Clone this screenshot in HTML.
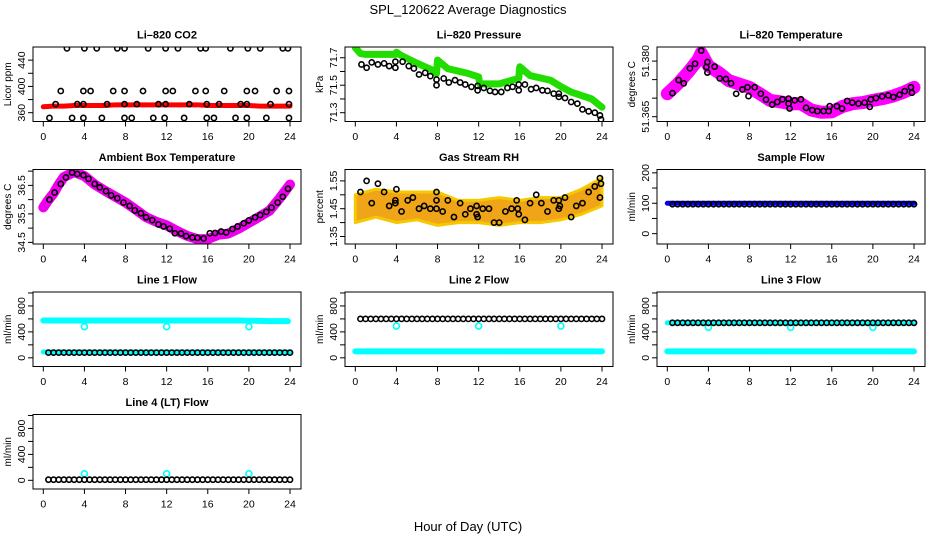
<!DOCTYPE html>
<html><head><meta charset="utf-8"><style>
html,body{margin:0;padding:0;background:#fff;}
svg{display:block;font-family:"Liberation Sans",Arial,sans-serif;}
</style></head><body>
<svg id="chart" width="936" height="540" viewBox="0 0 936 540">
<text x="468" y="14" font-size="13" text-anchor="middle">SPL_120622  Average Diagnostics</text>
<text x="468" y="531" font-size="13" text-anchor="middle">Hour of Day (UTC)</text>
</svg>
<script>
// ---------- data ----------
const bandHours = [0,1,2,3,4,5,6,7,8,9,10,11,12,13,14,15,16,17,18,19,20,21,22,23,24];
const ptHours = [0.5,1,1.5,2,2.5,3,3.5,4,4.5,5,5.5,6,6.5,7,7.5,8,8.5,9,9.5,10,10.5,11,11.5,12,12.5,13,13.5,14,14.5,15,15.5,16,16.5,17,17.5,18,18.5,19,19.5,20,20.5,21,21.5,22,22.5,23,23.5,24];

// CO2
const co2Band = [369,370,370,371,371,371,371,372,372,372,372,372,372,372,372,372,371,371,371,371,371,370,370,370,370];
const co2Hours = [2.3,4.0,5.2,7.2,7.9,10.2,11.9,13.1,15.3,15.8,18.2,19.9,21.1,23.3,23.8,
 1.7,3.9,4.6,6.8,7.9,9.7,11.9,12.6,14.8,15.8,17.6,19.8,20.6,22.7,23.9,
 1.2,3.3,3.9,6.2,7.9,9.1,11.2,11.9,14.2,15.9,17.1,19.2,19.8,22.1,23.9,
 0.6,2.8,3.9,5.7,7.9,8.6,10.7,11.8,13.7,15.9,16.6,18.7,19.8,21.7,23.9];
const co2Vals = [458,458,458,458,458,458,458,458,458,458,458,458,458,458,458,
 393,393,393,393,393,393,393,393,393,393,393,393,393,393,393,
 373,373,373,373,373,373,373,373,373,373,373,373,373,373,373,
 352,352,352,352,352,352,352,352,352,352,352,352,352,352,352];

// Pressure
const presBandHours = [0,0.5,1,3.9,4,4.5,6,7.5,7.9,8,9,11,12,12.1,14,15.9,16,17,19,20,21,23,24];
const presBand = [71.773,71.73,71.724,71.724,71.74,71.715,71.66,71.61,71.585,71.683,71.62,71.585,71.56,71.51,71.51,71.55,71.634,71.57,71.536,71.49,71.45,71.40,71.34];
const presHours = [0.6,1.1,1.6,2.2,2.8,3.3,3.9,3.9,4.6,5.2,5.7,6.2,6.8,7.3,7.9,7.9,8.6,9.1,9.7,10.2,10.7,11.3,11.9,11.9,12.5,13.1,13.6,14.2,14.8,15.3,15.9,15.9,16.5,17.1,17.6,18.2,18.7,19.3,19.8,19.8,20.4,21,21.6,22.1,22.7,23.3,23.8,23.9];
const presVals = [71.651,71.627,71.666,71.651,71.659,71.639,71.671,71.627,71.671,71.639,71.622,71.578,71.590,71.566,71.541,71.500,71.549,71.520,71.537,71.520,71.505,71.488,71.495,71.463,71.480,71.459,71.451,71.451,71.480,71.488,71.505,71.463,71.505,71.471,71.480,71.463,71.459,71.439,71.415,71.439,71.407,71.378,71.366,71.324,71.310,71.300,71.280,71.251];

// Li-820 temperature
const tempBandHours = [0,1,2,3,3.3,4,5,6,7,8,9,10,11,12,13,14,15,16,17,18,19,20,21,22,23,24];
const tempBand = [51.3712,51.3738,51.3769,51.3804,51.3822,51.3787,51.3769,51.3747,51.3738,51.3729,51.3712,51.3694,51.3690,51.3685,51.3685,51.3668,51.3662,51.3663,51.3677,51.3685,51.3688,51.3694,51.3699,51.3706,51.3716,51.3729];
const tempHours = [0.5,1.1,1.6,2.2,2.7,3.3,3.8,3.9,3.9,4.6,5.1,5.7,6.2,6.7,7.3,7.8,7.9,8.5,9.1,9.6,10.2,10.7,11.2,11.8,11.8,11.9,12.4,13,13.5,14.1,14.6,15.2,15.7,15.8,16.5,17,17.5,18,18.6,19.2,19.7,19.8,20.3,20.9,21.5,22,22.6,23.1,23.7,23.8];
const tempVals = [51.37136,51.37488,51.37400,51.37806,51.37929,51.38282,51.37841,51.37691,51.37974,51.37850,51.37533,51.37515,51.37400,51.37118,51.37233,51.37294,51.37056,51.37294,51.37118,51.36959,51.36827,51.36897,51.36968,51.36986,51.36853,51.36721,51.36942,51.36968,51.36739,51.36677,51.36651,51.36651,51.36651,51.36783,51.36783,51.36721,51.36924,51.36880,51.36853,51.36880,51.36765,51.36968,51.37003,51.37047,51.37074,51.37030,51.37092,51.37189,51.37294,51.37145];

// Ambient box temperature
const ambBandHours = [0,0.5,1,1.5,2,3,4,5,6,7,8,9,10,11,12,13,14,15,16,17,18,19,20,21,22,23,24];
const ambBand = [35.727,35.991,36.220,36.530,36.794,36.966,36.828,36.530,36.312,36.106,35.899,35.647,35.383,35.222,35.096,34.901,34.729,34.615,34.615,34.764,34.810,34.982,35.188,35.394,35.612,36.048,36.530];
const ambHours = [0.6,1.1,1.7,2.2,2.8,3.3,3.9,4.4,5.0,5.5,6.1,6.6,7.2,7.8,8.4,8.9,9.5,10.0,10.6,11.2,11.7,12.3,12.8,13.4,13.9,14.5,15.0,15.6,16.2,16.7,17.3,17.8,18.4,18.9,19.5,20.0,20.6,21.1,21.7,22.2,22.8,23.3,23.8];
const ambVals = [36.00,36.25,36.55,36.78,36.95,36.90,36.86,36.73,36.55,36.43,36.30,36.15,36.05,35.90,35.78,35.62,35.52,35.38,35.28,35.13,35.06,34.98,34.82,34.81,34.72,34.67,34.66,34.64,34.82,34.83,34.88,34.85,34.97,35.06,35.17,35.27,35.38,35.46,35.57,35.72,35.90,36.10,36.38];

// Gas stream RH
const rhBandHours = [0,2,4,6,8,10,12,14,16,18,20,22,24];
const rhUpper = [1.50,1.52,1.51,1.51,1.51,1.48,1.48,1.49,1.48,1.49,1.49,1.52,1.56];
const rhLower = [1.40,1.42,1.40,1.41,1.39,1.40,1.40,1.39,1.40,1.40,1.41,1.43,1.46];
const rhHours = [0.5,1.1,1.6,2.2,2.8,3.3,3.9,3.9,4.0,4.5,5.1,5.6,6.2,6.7,7.3,7.9,7.9,7.9,8.5,9.0,9.6,10.2,10.7,11.2,11.8,11.8,11.9,12.4,13.0,13.5,14.0,14.6,15.2,15.7,15.8,15.9,16.5,17.0,17.6,18.1,18.7,19.3,19.8,19.8,19.9,20.4,21.0,21.5,22.1,22.7,23.3,23.8,23.8,23.9];
const rhVals = [1.51,1.55,1.47,1.54,1.51,1.46,1.48,1.47,1.52,1.44,1.48,1.49,1.45,1.46,1.45,1.45,1.48,1.51,1.44,1.48,1.42,1.47,1.43,1.45,1.43,1.46,1.42,1.45,1.45,1.40,1.40,1.44,1.45,1.48,1.45,1.43,1.41,1.47,1.50,1.47,1.44,1.48,1.48,1.45,1.46,1.49,1.42,1.46,1.47,1.51,1.53,1.56,1.49,1.54];

// Sample flow
const sampleBand = [100,100,100,100,100,100,100,100,100,100,100,100,100,100,100,100,100,100,100,100,100,100,100,100,100];
const sampleVals = [97,97,97,97,97,97,97,97,97,97,97,97,97,97,97,97,97,97,97,97,97,97,97,97,97,97,97,97,97,97,97,97,97,97,97,97,97,97,97,97,97,97,97,97,97,97,97,97];

// Line flows
const line1High = [575,575,575,575,575,575,575,575,575,575,575,575,575,575,575,575,575,575,575,575,572,570,566,565,565];
const line1Low = [90,90,90,90,90,90,90,90,90,90,90,90,90,90,90,90,90,90,90,90,90,90,90,90,90];
const line1Black = [80,80,80,80,80,80,80,80,80,80,80,80,80,80,80,80,80,80,80,80,80,80,80,80,80,80,80,80,80,80,80,80,80,80,80,80,80,80,80,80,80,80,80,80,80,80,80,80];
const line2Band = [100,100,100,100,100,100,100,100,100,100,100,100,100,100,100,100,100,100,100,100,100,100,100,100,100];
const line2Black = [600,600,600,600,600,600,600,600,600,600,600,600,600,600,600,600,600,600,600,600,600,600,600,600,600,600,600,600,600,600,600,600,600,600,600,600,600,600,600,600,600,600,600,600,600,600,600,600];
const line3Band = [100,100,100,100,100,100,100,100,100,100,100,100,100,100,100,100,100,100,100,100,100,100,100,100,100];
const line3High = [540,540,540,540,540,540,540,540,540,540,540,540,540,540,540,540,540,540,540,540,540,540,540,540,540];
const line3Black = [540,540,540,540,540,540,540,540,540,540,540,540,540,540,540,540,540,540,540,540,540,540,540,540,540,540,540,540,540,540,540,540,540,540,540,540,540,540,540,540,540,540,540,540,540,540,540,540];
const line4Black = [10,10,10,10,10,10,10,10,10,10,10,10,10,10,10,10,10,10,10,10,10,10,10,10,10,10,10,10,10,10,10,10,10,10,10,10,10,10,10,10,10,10,10,10,10,10,10,10];
const outlierHours = [4,12,20];
const line1Out = [480,480,480];
const line2Out = [490,490,490];
const line3Out = [470,470,470];
const line4Out = [100,100,100];

const xTicks = [0,4,8,12,16,20,24];

// ---------- drawing ----------
const NS = 'http://www.w3.org/2000/svg';
const svg = document.getElementById('chart');
const rowTops = [47, 169.5, 292, 414.5];
const BOXH = 74.5;
function mk(tag, attrs, parent){
  const e = document.createElementNS(NS, tag);
  for (const k in attrs) e.setAttribute(k, attrs[k]);
  (parent||svg).appendChild(e);
  return e;
}
function panel(name, title, ylab, col, row, ymin, ymax, ticks, labels){
  const g = mk('g', {});
  
  
  const off = 312*col;
  const left = 33 + off, right = 301 + off, top = rowTops[row], bot = top + BOXH;
  const P = {g, sx: h => 43.3 + off + h*(246.7/24), sy: v => top + (ymax - v)/(ymax - ymin)*BOXH, left, right, top, bot};
  const t = mk('text', {x:(left+right)/2, y: top-8.5, 'font-size':11, 'font-weight':'bold', 'text-anchor':'middle'}, g);
  t.textContent = title;
  
  
  const yl = mk('text', {transform:`translate(${11+off},${(top+bot)/2}) rotate(-90)`, 'font-size':10, 'text-anchor':'middle'}, g);
  yl.textContent = ylab;
  
  
  // x axis
  const xa = mk('g', {stroke:'#000', 'stroke-width':1}, g);
  
  
  mk('line', {x1:P.sx(xTicks[0]), x2:P.sx(xTicks[xTicks.length-1]), y1:bot, y2:bot}, xa);
  xTicks.forEach(v => {
    mk('line', {x1:P.sx(v), x2:P.sx(v), y1:bot, y2:bot+5}, xa);
    const tl = mk('text', {x:P.sx(v), y:bot+18.5, 'font-size':10.5, 'text-anchor':'middle', stroke:'none'}, xa);
    tl.textContent = v;
    
    
  });
  // y axis
  const ya = mk('g', {stroke:'#000', 'stroke-width':1}, g);
  
  
  mk('line', {x1:left, x2:left, y1:P.sy(ticks[0]), y2:P.sy(ticks[ticks.length-1])}, ya);
  ticks.forEach(v => mk('line', {x1:left-5, x2:left, y1:P.sy(v), y2:P.sy(v)}, ya));
  labels.forEach(v => {
    const tl = mk('text', {transform:`translate(${25+off},${P.sy(v)}) rotate(-90)`, 'font-size':10.5, 'text-anchor':'middle', stroke:'none'}, ya);
    tl.textContent = v;
    
    
  });
  P.clip = 'clip-' + name;
  const cp = mk('clipPath', {id:P.clip}, g);
  mk('rect', {x:left, y:top, width:right-left, height:BOXH}, cp);
  P.plot = mk('g', {'clip-path':`url(#${P.clip})`}, g);
  setTimeout(() => {
    const box = mk('rect', {x:left, y:top, width:right-left, height:BOXH, fill:'none', stroke:'#000', 'stroke-width':1}, g);
    
    
  }, 0);
  return P;
}
function band(P, hs, vs, color, w, nm){
  const pl = mk('polyline', {points: hs.map((h,i)=>P.sx(h)+','+P.sy(vs[i])).join(' '), fill:'none', stroke:color, 'stroke-width':w, 'stroke-linejoin':'round', 'stroke-linecap':'round'}, P.plot);
  
  
}
function points(P, hs, vs, color, nm, r){
  const g = mk('g', {fill:'none', stroke:color, 'stroke-width':1.6}, P.plot);
  
  
  hs.forEach((h,i) => {
    const c = mk('circle', {cx:P.sx(h), cy:P.sy(vs[i]), r:r||2.6}, g);
    
    
  });
}

// CO2
let P = panel('co2', 'Li\u2013820 CO2', 'Licor ppm', 0, 0, 346.6, 460, [360,380,400,420,440], [360,400,440]);
band(P, bandHours, co2Band, '#ff0000', 5, 'co2-raw-band');
points(P, co2Hours, co2Vals, '#000', 'co2-average');

// Pressure
P = panel('pressure', 'Li\u2013820 Pressure', 'kPa', 1, 0, 71.236, 71.778, [71.3,71.4,71.5,71.6,71.7], ['71.3','71.5','71.7']);
band(P, presBandHours, presBand, '#22dd00', 7, 'pressure-raw-band');
points(P, presHours, presVals, '#000', 'pressure-average');

// Li-820 temp
P = panel('li820-temp', 'Li\u2013820 Temperature', 'degrees C', 2, 0, 51.3637, 51.3838, [51.365,51.370,51.375,51.380], ['51.365','51.380']);
band(P, tempBandHours, tempBand, '#ff00ff', 13, 'li820-temp-raw-band');
points(P, tempHours, tempVals, '#000', 'li820-temp-average');

// Ambient
P = panel('ambient-temp', 'Ambient Box Temperature', 'degrees C', 0, 1, 34.443, 37.057, [34.5,35,35.5,36,36.5,37], ['34.5','35.5','36.5']);
band(P, ambBandHours, ambBand, '#ee00ee', 10, 'ambient-temp-raw-band');
points(P, ambHours, ambVals, '#000', 'ambient-temp-average');

// RH
P = panel('rh', 'Gas Stream RH', 'percent', 1, 1, 1.323, 1.591, [1.35,1.40,1.45,1.50,1.55], ['1.35','1.45','1.55']);
{
  const pts = rhBandHours.map((h,i)=>P.sx(h)+','+P.sy(rhUpper[i])).concat(rhBandHours.slice().reverse().map((h,j)=>P.sx(h)+','+P.sy(rhLower[rhLower.length-1-j])));
  const pg = mk('polygon', {points: pts.join(' '), fill:'#f0a418', stroke:'#f5c800', 'stroke-width':3, 'stroke-linejoin':'round'}, P.plot);
  
  
}
points(P, rhHours, rhVals, '#000', 'rh-average');

// Sample flow
P = panel('sample-flow', 'Sample Flow', 'ml/min', 2, 1, -34, 211, [0,50,100,150,200], [0,100,200]);
band(P, bandHours, sampleBand, '#0000ff', 5, 'sample-flow-raw-band');
points(P, ptHours, sampleVals, '#000', 'sample-flow-average');

const flowTicks = [0,200,400,600,800,1000], flowLabels = [0,400,800];
// Line 1
P = panel('line1-flow', 'Line 1 Flow', 'ml/min', 0, 2, -134, 1015, flowTicks, flowLabels);
band(P, bandHours.slice(0,24).concat([23.8]), line1High, '#00ffff', 6, 'line1-raw-high-band');
band(P, bandHours, line1Low, '#00ffff', 5, 'line1-raw-low-band');
points(P, outlierHours, line1Out, '#00ffff', 'line1-outliers', 3);
points(P, ptHours, line1Black, '#000', 'line1-average');
// Line 2
P = panel('line2-flow', 'Line 2 Flow', 'ml/min', 1, 2, -134, 1015, flowTicks, flowLabels);
band(P, bandHours, line2Band, '#00ffff', 6, 'line2-raw-band');
points(P, outlierHours, line2Out, '#00ffff', 'line2-outliers', 3);
points(P, ptHours, line2Black, '#000', 'line2-average');
// Line 3
P = panel('line3-flow', 'Line 3 Flow', 'ml/min', 2, 2, -134, 1015, flowTicks, flowLabels);
band(P, bandHours, line3Band, '#00ffff', 6, 'line3-raw-band');
band(P, bandHours, line3High, '#00ffff', 5, 'line3-raw-high-band');
points(P, outlierHours, line3Out, '#00ffff', 'line3-outliers', 3);
points(P, ptHours, line3Black, '#000', 'line3-average');
// Line 4
P = panel('line4-flow', 'Line 4 (LT) Flow', 'ml/min', 0, 3, -134, 1015, flowTicks, flowLabels);
points(P, outlierHours, line4Out, '#00ffff', 'line4-outliers', 3);
points(P, ptHours, line4Black, '#000', 'line4-average');
</script>
</body></html>
